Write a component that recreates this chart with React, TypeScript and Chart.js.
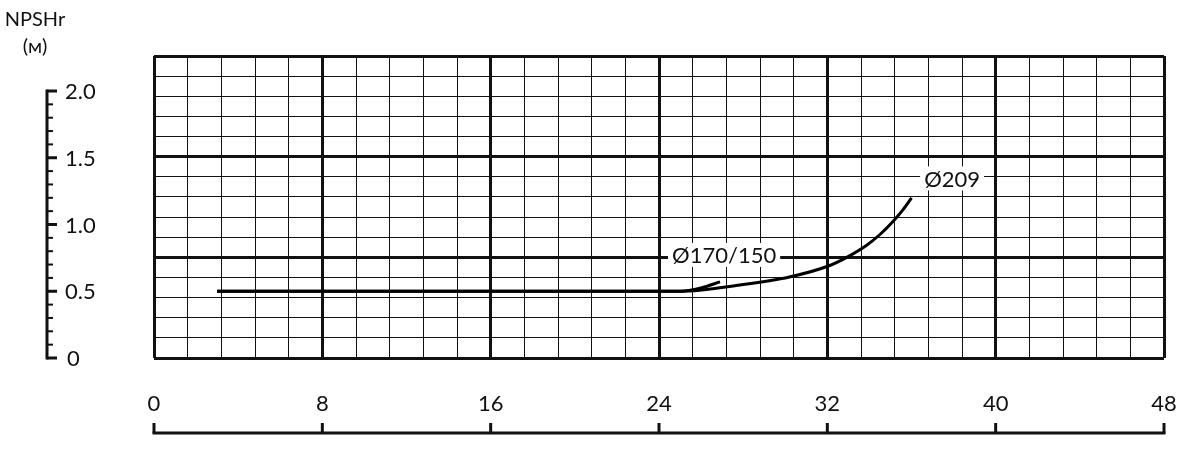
import React, { useEffect, useRef } from "react";
import { Chart, registerables } from "chart.js";

Chart.register(...registerables);

// ---- data ----
const curve209Q = [3, 25, 27.85, 30.2, 32.05, 32.92, 33.87, 34.5, 35.13, 35.6, 36];
const curve209H = [0.5, 0.5, 0.547, 0.607, 0.689, 0.754, 0.845, 0.925, 1.025, 1.112, 1.2];
const curve170Q = [3, 25, 26, 26.9];
const curve170H = [0.5, 0.5, 0.525, 0.57];
const xTickValues = [0, 8, 16, 24, 32, 40, 48];
const xTickLabels = ["0", "8", "16", "24", "32", "40", "48"];
const yTickValues = [0, 0.5, 1.0, 1.5, 2.0];
const yTickLabels = ["0", "0.5", "1.0", "1.5", "2.0"];
const curveLabels = ["Ø209", "Ø170/150"];
const curveLabelQ = [36.6, 24.62];
const curveLabelH = [1.345, 0.772];
const yAxisTitle = ["NPSHr", "(м)"];

const FONT = "Lato, 'DejaVu Sans', sans-serif";

const customAxes = {
  id: "customAxes",
  afterDraw(chart: any) {
    const ctx = chart.ctx as CanvasRenderingContext2D;
    const xs = chart.scales.x;
    const ys = chart.scales.y;
    ctx.save();
    ctx.strokeStyle = "#111";
    ctx.fillStyle = "#111";

    // curve labels with white background
    ctx.font = `22px ${FONT}`;
    ctx.textBaseline = "middle";
    ctx.textAlign = "left";
    curveLabels.forEach((t, i) => {
      const px = xs.getPixelForValue(curveLabelQ[i]);
      const py = ys.getPixelForValue(curveLabelH[i]);
      const w = ctx.measureText(t).width;
      ctx.fillStyle = "#fff";
      ctx.fillRect(px - 4, py - 12, w + 8, 24);
      ctx.fillStyle = "#111";
      ctx.fillText(t, px, py + 1);
    });

    // left NPSH axis
    const ax = 47;
    const y0 = ys.getPixelForValue(0);
    const y2 = ys.getPixelForValue(2);
    ctx.lineWidth = 3;
    ctx.beginPath();
    ctx.moveTo(ax, y0 + 1.5);
    ctx.lineTo(ax, y2 - 1.5);
    ctx.stroke();
    for (let k = 0; k <= 20; k++) {
      const py = ys.getPixelForValue(k / 10);
      const major = k % 5 === 0;
      ctx.lineWidth = major ? 3 : 2;
      ctx.beginPath();
      ctx.moveTo(ax, py);
      ctx.lineTo(ax + (major ? 10 : 6), py);
      ctx.stroke();
    }
    ctx.font = `22px ${FONT}`;
    ctx.textAlign = "left";
    ctx.textBaseline = "middle";
    yTickValues.forEach((v, i) => {
      const py = ys.getPixelForValue(v);
      ctx.fillText(yTickLabels[i], i === 0 ? 67 : 65, py + 1);
    });
    ctx.font = `20px ${FONT}`;
    ctx.textAlign = "center";
    ctx.fillText(yAxisTitle[0], 35, 20);
    ctx.fillText(yAxisTitle[1], 35, 47);

    // bottom Q axis
    const by = 433;
    const bx0 = xs.getPixelForValue(0);
    const bx1 = xs.getPixelForValue(48);
    ctx.lineWidth = 3;
    ctx.beginPath();
    ctx.moveTo(bx0 - 1.5, by);
    ctx.lineTo(bx1 + 1.5, by);
    ctx.stroke();
    ctx.font = `22px ${FONT}`;
    ctx.textAlign = "center";
    ctx.textBaseline = "middle";
    xTickValues.forEach((v, i) => {
      const px = xs.getPixelForValue(v);
      ctx.beginPath();
      ctx.moveTo(px, by);
      ctx.lineTo(px, by - 10);
      ctx.stroke();
      ctx.fillText(xTickLabels[i], px, 404);
    });
    ctx.restore();
  },
};

export default function App() {
  const ref = useRef<HTMLCanvasElement>(null);
  useEffect(() => {
    if (!ref.current) return;
    const gridWidth = (c: any) => (c.index % 5 === 0 ? 3 : 1);
    const chart = new Chart(ref.current, {
      type: "line",
      data: {
        datasets: [
          {
            data: curve209Q.map((q, i) => ({ x: q, y: curve209H[i] })),
            borderColor: "#000",
            borderWidth: 3,
            pointRadius: 0,
            cubicInterpolationMode: "monotone",
            xAxisID: "x",
            yAxisID: "y",
          },
          {
            data: curve170Q.map((q, i) => ({ x: q, y: curve170H[i] })),
            borderColor: "#000",
            borderWidth: 3,
            pointRadius: 0,
            cubicInterpolationMode: "monotone",
            xAxisID: "x",
            yAxisID: "y",
          },
        ],
      },
      options: {
        responsive: false,
        animation: false,
        devicePixelRatio: 1,
        layout: { padding: { left: 154, top: 56, right: 15, bottom: 102 } },
        plugins: { legend: { display: false }, tooltip: { enabled: false } },
        scales: {
          x: { type: "linear", display: false, min: 0, max: 48 },
          y: { type: "linear", display: false, min: 0, max: 302 / 133.5 },
          xg: {
            type: "linear",
            position: "bottom",
            min: 0,
            max: 30,
            ticks: { stepSize: 1, display: false },
            grid: { color: "#111", lineWidth: gridWidth, drawTicks: false },
            border: { display: false },
            afterFit: (s: any) => { s.height = 0; },
          },
          yg: {
            type: "linear",
            position: "left",
            min: 0,
            max: 15,
            ticks: { stepSize: 1, display: false },
            grid: { color: "#111", lineWidth: gridWidth, drawTicks: false },
            border: { display: false },
            afterFit: (s: any) => { s.width = 0; },
          },
        },
      } as any,
      plugins: [customAxes],
    });
    return () => chart.destroy();
  }, []);
  return (
    <div style={{ position: "fixed", left: 0, top: 0, width: 1179, height: 460, background: "#fff" }}>
      <canvas ref={ref} width={1179} height={460} style={{ display: "block" }} />
    </div>
  );
}
